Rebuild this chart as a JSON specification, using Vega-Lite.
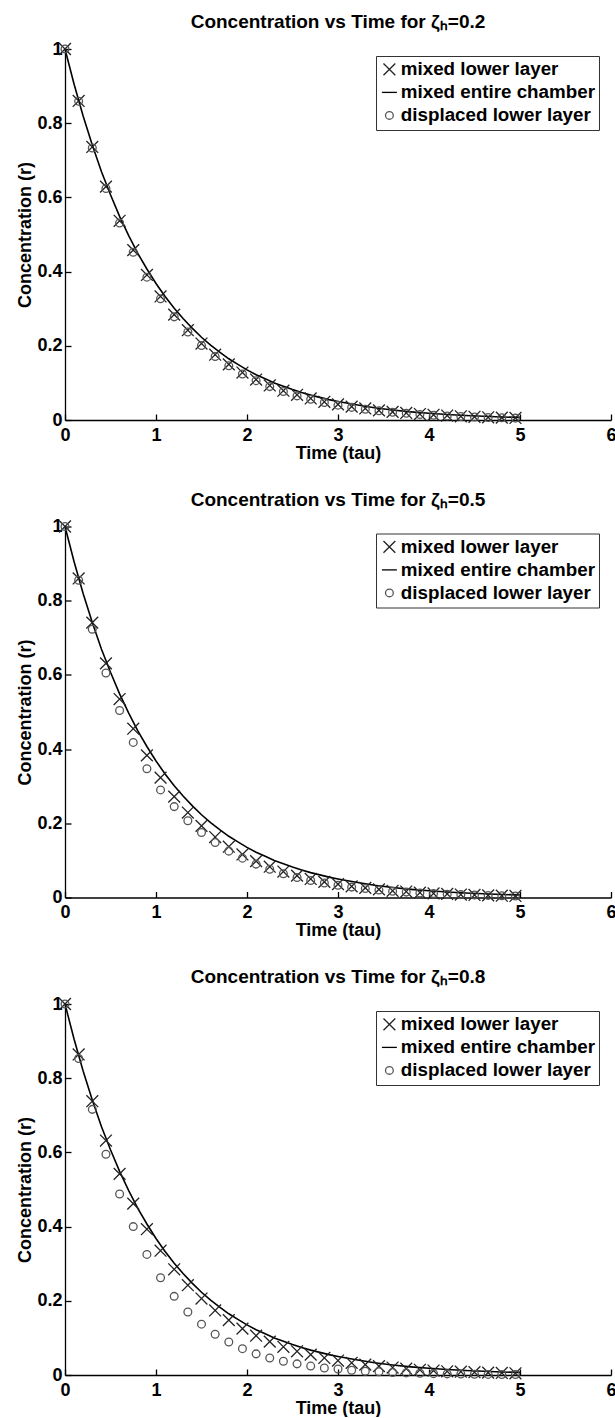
{
  "$schema": "https://vega.github.io/schema/vega-lite/v6.json",
  "padding": {"left": 16, "top": 13, "right": 0, "bottom": 0},
  "datasets": {
    "curve": [
      {"t": 0, "r": 1}, {"t": 0.1, "r": 0.905}, {"t": 0.2, "r": 0.819}, {"t": 0.3, "r": 0.741}, {"t": 0.4, "r": 0.670},
      {"t": 0.5, "r": 0.607}, {"t": 0.6, "r": 0.549}, {"t": 0.7, "r": 0.497}, {"t": 0.8, "r": 0.449}, {"t": 0.9, "r": 0.407},
      {"t": 1.0, "r": 0.368}, {"t": 1.1, "r": 0.333}, {"t": 1.2, "r": 0.301}, {"t": 1.3, "r": 0.273}, {"t": 1.4, "r": 0.247},
      {"t": 1.5, "r": 0.223}, {"t": 1.6, "r": 0.202}, {"t": 1.7, "r": 0.183}, {"t": 1.8, "r": 0.165}, {"t": 1.9, "r": 0.150},
      {"t": 2.0, "r": 0.135}, {"t": 2.1, "r": 0.122}, {"t": 2.2, "r": 0.111}, {"t": 2.3, "r": 0.100}, {"t": 2.4, "r": 0.091},
      {"t": 2.5, "r": 0.082}, {"t": 2.6, "r": 0.074}, {"t": 2.7, "r": 0.067}, {"t": 2.8, "r": 0.061}, {"t": 2.9, "r": 0.055},
      {"t": 3.0, "r": 0.050}, {"t": 3.2, "r": 0.041}, {"t": 3.4, "r": 0.033}, {"t": 3.6, "r": 0.027}, {"t": 3.8, "r": 0.022},
      {"t": 4.0, "r": 0.018}, {"t": 4.2, "r": 0.015}, {"t": 4.4, "r": 0.012}, {"t": 4.6, "r": 0.010}, {"t": 4.8, "r": 0.008},
      {"t": 5.0, "r": 0.007}
    ],
    "pts": [
      {"z": 0.2, "series": "mixed lower layer", "t": 0, "r": 1}, {"z": 0.2, "series": "mixed lower layer", "t": 0.15, "r": 0.860}, {"z": 0.2, "series": "mixed lower layer", "t": 0.3, "r": 0.736}, {"z": 0.2, "series": "mixed lower layer", "t": 0.45, "r": 0.629}, {"z": 0.2, "series": "mixed lower layer", "t": 0.6, "r": 0.537}, {"z": 0.2, "series": "mixed lower layer", "t": 0.75, "r": 0.458}, {"z": 0.2, "series": "mixed lower layer", "t": 0.9, "r": 0.391}, {"z": 0.2, "series": "mixed lower layer", "t": 1.05, "r": 0.333}, {"z": 0.2, "series": "mixed lower layer", "t": 1.2, "r": 0.284}, {"z": 0.2, "series": "mixed lower layer", "t": 1.35, "r": 0.242}, {"z": 0.2, "series": "mixed lower layer", "t": 1.5, "r": 0.206}, {"z": 0.2, "series": "mixed lower layer", "t": 1.65, "r": 0.176}, {"z": 0.2, "series": "mixed lower layer", "t": 1.8, "r": 0.150}, {"z": 0.2, "series": "mixed lower layer", "t": 1.95, "r": 0.128}, {"z": 0.2, "series": "mixed lower layer", "t": 2.1, "r": 0.109}, {"z": 0.2, "series": "mixed lower layer", "t": 2.25, "r": 0.093}, {"z": 0.2, "series": "mixed lower layer", "t": 2.4, "r": 0.079}, {"z": 0.2, "series": "mixed lower layer", "t": 2.55, "r": 0.068}, {"z": 0.2, "series": "mixed lower layer", "t": 2.7, "r": 0.058}, {"z": 0.2, "series": "mixed lower layer", "t": 2.85, "r": 0.049}, {"z": 0.2, "series": "mixed lower layer", "t": 3.0, "r": 0.042}, {"z": 0.2, "series": "mixed lower layer", "t": 3.15, "r": 0.036}, {"z": 0.2, "series": "mixed lower layer", "t": 3.3, "r": 0.031}, {"z": 0.2, "series": "mixed lower layer", "t": 3.45, "r": 0.026}, {"z": 0.2, "series": "mixed lower layer", "t": 3.6, "r": 0.022}, {"z": 0.2, "series": "mixed lower layer", "t": 3.75, "r": 0.019}, {"z": 0.2, "series": "mixed lower layer", "t": 3.9, "r": 0.016}, {"z": 0.2, "series": "mixed lower layer", "t": 4.05, "r": 0.014}, {"z": 0.2, "series": "mixed lower layer", "t": 4.2, "r": 0.012}, {"z": 0.2, "series": "mixed lower layer", "t": 4.35, "r": 0.010}, {"z": 0.2, "series": "mixed lower layer", "t": 4.5, "r": 0.0087}, {"z": 0.2, "series": "mixed lower layer", "t": 4.65, "r": 0.0074}, {"z": 0.2, "series": "mixed lower layer", "t": 4.8, "r": 0.0063}, {"z": 0.2, "series": "mixed lower layer", "t": 4.95, "r": 0.0054},
      {"z": 0.2, "series": "displaced lower layer", "t": 0, "r": 1}, {"z": 0.2, "series": "displaced lower layer", "t": 0.15, "r": 0.859}, {"z": 0.2, "series": "displaced lower layer", "t": 0.3, "r": 0.733}, {"z": 0.2, "series": "displaced lower layer", "t": 0.45, "r": 0.624}, {"z": 0.2, "series": "displaced lower layer", "t": 0.6, "r": 0.531}, {"z": 0.2, "series": "displaced lower layer", "t": 0.75, "r": 0.452}, {"z": 0.2, "series": "displaced lower layer", "t": 0.9, "r": 0.385}, {"z": 0.2, "series": "displaced lower layer", "t": 1.05, "r": 0.327}, {"z": 0.2, "series": "displaced lower layer", "t": 1.2, "r": 0.278}, {"z": 0.2, "series": "displaced lower layer", "t": 1.35, "r": 0.237}, {"z": 0.2, "series": "displaced lower layer", "t": 1.5, "r": 0.201}, {"z": 0.2, "series": "displaced lower layer", "t": 1.65, "r": 0.171}, {"z": 0.2, "series": "displaced lower layer", "t": 1.8, "r": 0.146}, {"z": 0.2, "series": "displaced lower layer", "t": 1.95, "r": 0.124}, {"z": 0.2, "series": "displaced lower layer", "t": 2.1, "r": 0.106}, {"z": 0.2, "series": "displaced lower layer", "t": 2.25, "r": 0.090}, {"z": 0.2, "series": "displaced lower layer", "t": 2.4, "r": 0.077}, {"z": 0.2, "series": "displaced lower layer", "t": 2.55, "r": 0.065}, {"z": 0.2, "series": "displaced lower layer", "t": 2.7, "r": 0.056}, {"z": 0.2, "series": "displaced lower layer", "t": 2.85, "r": 0.047}, {"z": 0.2, "series": "displaced lower layer", "t": 3.0, "r": 0.040}, {"z": 0.2, "series": "displaced lower layer", "t": 3.15, "r": 0.034}, {"z": 0.2, "series": "displaced lower layer", "t": 3.3, "r": 0.029}, {"z": 0.2, "series": "displaced lower layer", "t": 3.45, "r": 0.025}, {"z": 0.2, "series": "displaced lower layer", "t": 3.6, "r": 0.021}, {"z": 0.2, "series": "displaced lower layer", "t": 3.75, "r": 0.018}, {"z": 0.2, "series": "displaced lower layer", "t": 3.9, "r": 0.015}, {"z": 0.2, "series": "displaced lower layer", "t": 4.05, "r": 0.013}, {"z": 0.2, "series": "displaced lower layer", "t": 4.2, "r": 0.011}, {"z": 0.2, "series": "displaced lower layer", "t": 4.35, "r": 0.0095}, {"z": 0.2, "series": "displaced lower layer", "t": 4.5, "r": 0.0081}, {"z": 0.2, "series": "displaced lower layer", "t": 4.65, "r": 0.0069}, {"z": 0.2, "series": "displaced lower layer", "t": 4.8, "r": 0.0059}, {"z": 0.2, "series": "displaced lower layer", "t": 4.95, "r": 0.0050},
      {"z": 0.5, "series": "mixed lower layer", "t": 0, "r": 1}, {"z": 0.5, "series": "mixed lower layer", "t": 0.15, "r": 0.860}, {"z": 0.5, "series": "mixed lower layer", "t": 0.3, "r": 0.741}, {"z": 0.5, "series": "mixed lower layer", "t": 0.45, "r": 0.631}, {"z": 0.5, "series": "mixed lower layer", "t": 0.6, "r": 0.535}, {"z": 0.5, "series": "mixed lower layer", "t": 0.75, "r": 0.455}, {"z": 0.5, "series": "mixed lower layer", "t": 0.9, "r": 0.383}, {"z": 0.5, "series": "mixed lower layer", "t": 1.05, "r": 0.323}, {"z": 0.5, "series": "mixed lower layer", "t": 1.2, "r": 0.272}, {"z": 0.5, "series": "mixed lower layer", "t": 1.35, "r": 0.229}, {"z": 0.5, "series": "mixed lower layer", "t": 1.5, "r": 0.193}, {"z": 0.5, "series": "mixed lower layer", "t": 1.65, "r": 0.163}, {"z": 0.5, "series": "mixed lower layer", "t": 1.8, "r": 0.137}, {"z": 0.5, "series": "mixed lower layer", "t": 1.95, "r": 0.116}, {"z": 0.5, "series": "mixed lower layer", "t": 2.1, "r": 0.098}, {"z": 0.5, "series": "mixed lower layer", "t": 2.25, "r": 0.083}, {"z": 0.5, "series": "mixed lower layer", "t": 2.4, "r": 0.070}, {"z": 0.5, "series": "mixed lower layer", "t": 2.55, "r": 0.059}, {"z": 0.5, "series": "mixed lower layer", "t": 2.7, "r": 0.050}, {"z": 0.5, "series": "mixed lower layer", "t": 2.85, "r": 0.042}, {"z": 0.5, "series": "mixed lower layer", "t": 3.0, "r": 0.036}, {"z": 0.5, "series": "mixed lower layer", "t": 3.15, "r": 0.030}, {"z": 0.5, "series": "mixed lower layer", "t": 3.3, "r": 0.026}, {"z": 0.5, "series": "mixed lower layer", "t": 3.45, "r": 0.022}, {"z": 0.5, "series": "mixed lower layer", "t": 3.6, "r": 0.018}, {"z": 0.5, "series": "mixed lower layer", "t": 3.75, "r": 0.016}, {"z": 0.5, "series": "mixed lower layer", "t": 3.9, "r": 0.013}, {"z": 0.5, "series": "mixed lower layer", "t": 4.05, "r": 0.011}, {"z": 0.5, "series": "mixed lower layer", "t": 4.2, "r": 0.0095}, {"z": 0.5, "series": "mixed lower layer", "t": 4.35, "r": 0.0080}, {"z": 0.5, "series": "mixed lower layer", "t": 4.5, "r": 0.0068}, {"z": 0.5, "series": "mixed lower layer", "t": 4.65, "r": 0.0058}, {"z": 0.5, "series": "mixed lower layer", "t": 4.8, "r": 0.0049}, {"z": 0.5, "series": "mixed lower layer", "t": 4.95, "r": 0.0042},
      {"z": 0.5, "series": "displaced lower layer", "t": 0, "r": 1}, {"z": 0.5, "series": "displaced lower layer", "t": 0.15, "r": 0.855}, {"z": 0.5, "series": "displaced lower layer", "t": 0.3, "r": 0.723}, {"z": 0.5, "series": "displaced lower layer", "t": 0.45, "r": 0.605}, {"z": 0.5, "series": "displaced lower layer", "t": 0.6, "r": 0.504}, {"z": 0.5, "series": "displaced lower layer", "t": 0.75, "r": 0.418}, {"z": 0.5, "series": "displaced lower layer", "t": 0.9, "r": 0.347}, {"z": 0.5, "series": "displaced lower layer", "t": 1.05, "r": 0.290}, {"z": 0.5, "series": "displaced lower layer", "t": 1.2, "r": 0.245}, {"z": 0.5, "series": "displaced lower layer", "t": 1.35, "r": 0.207}, {"z": 0.5, "series": "displaced lower layer", "t": 1.5, "r": 0.175}, {"z": 0.5, "series": "displaced lower layer", "t": 1.65, "r": 0.148}, {"z": 0.5, "series": "displaced lower layer", "t": 1.8, "r": 0.125}, {"z": 0.5, "series": "displaced lower layer", "t": 1.95, "r": 0.106}, {"z": 0.5, "series": "displaced lower layer", "t": 2.1, "r": 0.090}, {"z": 0.5, "series": "displaced lower layer", "t": 2.25, "r": 0.076}, {"z": 0.5, "series": "displaced lower layer", "t": 2.4, "r": 0.064}, {"z": 0.5, "series": "displaced lower layer", "t": 2.55, "r": 0.054}, {"z": 0.5, "series": "displaced lower layer", "t": 2.7, "r": 0.046}, {"z": 0.5, "series": "displaced lower layer", "t": 2.85, "r": 0.039}, {"z": 0.5, "series": "displaced lower layer", "t": 3.0, "r": 0.033}, {"z": 0.5, "series": "displaced lower layer", "t": 3.15, "r": 0.028}, {"z": 0.5, "series": "displaced lower layer", "t": 3.3, "r": 0.024}, {"z": 0.5, "series": "displaced lower layer", "t": 3.45, "r": 0.020}, {"z": 0.5, "series": "displaced lower layer", "t": 3.6, "r": 0.017}, {"z": 0.5, "series": "displaced lower layer", "t": 3.75, "r": 0.0145}, {"z": 0.5, "series": "displaced lower layer", "t": 3.9, "r": 0.0123}, {"z": 0.5, "series": "displaced lower layer", "t": 4.05, "r": 0.0105}, {"z": 0.5, "series": "displaced lower layer", "t": 4.2, "r": 0.0090}, {"z": 0.5, "series": "displaced lower layer", "t": 4.35, "r": 0.0077}, {"z": 0.5, "series": "displaced lower layer", "t": 4.5, "r": 0.0066}, {"z": 0.5, "series": "displaced lower layer", "t": 4.65, "r": 0.0056}, {"z": 0.5, "series": "displaced lower layer", "t": 4.8, "r": 0.0048}, {"z": 0.5, "series": "displaced lower layer", "t": 4.95, "r": 0.0041},
      {"z": 0.8, "series": "mixed lower layer", "t": 0, "r": 1}, {"z": 0.8, "series": "mixed lower layer", "t": 0.15, "r": 0.864}, {"z": 0.8, "series": "mixed lower layer", "t": 0.3, "r": 0.738}, {"z": 0.8, "series": "mixed lower layer", "t": 0.45, "r": 0.632}, {"z": 0.8, "series": "mixed lower layer", "t": 0.6, "r": 0.542}, {"z": 0.8, "series": "mixed lower layer", "t": 0.75, "r": 0.462}, {"z": 0.8, "series": "mixed lower layer", "t": 0.9, "r": 0.393}, {"z": 0.8, "series": "mixed lower layer", "t": 1.05, "r": 0.335}, {"z": 0.8, "series": "mixed lower layer", "t": 1.2, "r": 0.285}, {"z": 0.8, "series": "mixed lower layer", "t": 1.35, "r": 0.242}, {"z": 0.8, "series": "mixed lower layer", "t": 1.5, "r": 0.206}, {"z": 0.8, "series": "mixed lower layer", "t": 1.65, "r": 0.174}, {"z": 0.8, "series": "mixed lower layer", "t": 1.8, "r": 0.148}, {"z": 0.8, "series": "mixed lower layer", "t": 1.95, "r": 0.125}, {"z": 0.8, "series": "mixed lower layer", "t": 2.1, "r": 0.106}, {"z": 0.8, "series": "mixed lower layer", "t": 2.25, "r": 0.090}, {"z": 0.8, "series": "mixed lower layer", "t": 2.4, "r": 0.076}, {"z": 0.8, "series": "mixed lower layer", "t": 2.55, "r": 0.064}, {"z": 0.8, "series": "mixed lower layer", "t": 2.7, "r": 0.055}, {"z": 0.8, "series": "mixed lower layer", "t": 2.85, "r": 0.046}, {"z": 0.8, "series": "mixed lower layer", "t": 3.0, "r": 0.039}, {"z": 0.8, "series": "mixed lower layer", "t": 3.15, "r": 0.033}, {"z": 0.8, "series": "mixed lower layer", "t": 3.3, "r": 0.028}, {"z": 0.8, "series": "mixed lower layer", "t": 3.45, "r": 0.024}, {"z": 0.8, "series": "mixed lower layer", "t": 3.6, "r": 0.020}, {"z": 0.8, "series": "mixed lower layer", "t": 3.75, "r": 0.017}, {"z": 0.8, "series": "mixed lower layer", "t": 3.9, "r": 0.014}, {"z": 0.8, "series": "mixed lower layer", "t": 4.05, "r": 0.012}, {"z": 0.8, "series": "mixed lower layer", "t": 4.2, "r": 0.010}, {"z": 0.8, "series": "mixed lower layer", "t": 4.35, "r": 0.0088}, {"z": 0.8, "series": "mixed lower layer", "t": 4.5, "r": 0.0075}, {"z": 0.8, "series": "mixed lower layer", "t": 4.65, "r": 0.0063}, {"z": 0.8, "series": "mixed lower layer", "t": 4.8, "r": 0.0054}, {"z": 0.8, "series": "mixed lower layer", "t": 4.95, "r": 0.0046},
      {"z": 0.8, "series": "displaced lower layer", "t": 0, "r": 1}, {"z": 0.8, "series": "displaced lower layer", "t": 0.15, "r": 0.853}, {"z": 0.8, "series": "displaced lower layer", "t": 0.3, "r": 0.716}, {"z": 0.8, "series": "displaced lower layer", "t": 0.45, "r": 0.595}, {"z": 0.8, "series": "displaced lower layer", "t": 0.6, "r": 0.488}, {"z": 0.8, "series": "displaced lower layer", "t": 0.75, "r": 0.400}, {"z": 0.8, "series": "displaced lower layer", "t": 0.9, "r": 0.325}, {"z": 0.8, "series": "displaced lower layer", "t": 1.05, "r": 0.262}, {"z": 0.8, "series": "displaced lower layer", "t": 1.2, "r": 0.212}, {"z": 0.8, "series": "displaced lower layer", "t": 1.35, "r": 0.170}, {"z": 0.8, "series": "displaced lower layer", "t": 1.5, "r": 0.137}, {"z": 0.8, "series": "displaced lower layer", "t": 1.65, "r": 0.110}, {"z": 0.8, "series": "displaced lower layer", "t": 1.8, "r": 0.089}, {"z": 0.8, "series": "displaced lower layer", "t": 1.95, "r": 0.071}, {"z": 0.8, "series": "displaced lower layer", "t": 2.1, "r": 0.057}, {"z": 0.8, "series": "displaced lower layer", "t": 2.25, "r": 0.046}, {"z": 0.8, "series": "displaced lower layer", "t": 2.4, "r": 0.037}, {"z": 0.8, "series": "displaced lower layer", "t": 2.55, "r": 0.030}, {"z": 0.8, "series": "displaced lower layer", "t": 2.7, "r": 0.024}, {"z": 0.8, "series": "displaced lower layer", "t": 2.85, "r": 0.019}, {"z": 0.8, "series": "displaced lower layer", "t": 3.0, "r": 0.016}, {"z": 0.8, "series": "displaced lower layer", "t": 3.15, "r": 0.013}, {"z": 0.8, "series": "displaced lower layer", "t": 3.3, "r": 0.010}, {"z": 0.8, "series": "displaced lower layer", "t": 3.45, "r": 0.0085}, {"z": 0.8, "series": "displaced lower layer", "t": 3.6, "r": 0.0069}, {"z": 0.8, "series": "displaced lower layer", "t": 3.75, "r": 0.0056}, {"z": 0.8, "series": "displaced lower layer", "t": 3.9, "r": 0.0046}, {"z": 0.8, "series": "displaced lower layer", "t": 4.05, "r": 0.0037}, {"z": 0.8, "series": "displaced lower layer", "t": 4.2, "r": 0.0030}, {"z": 0.8, "series": "displaced lower layer", "t": 4.35, "r": 0.0025}, {"z": 0.8, "series": "displaced lower layer", "t": 4.5, "r": 0.0020}, {"z": 0.8, "series": "displaced lower layer", "t": 4.65, "r": 0.0016}, {"z": 0.8, "series": "displaced lower layer", "t": 4.8, "r": 0.0013}, {"z": 0.8, "series": "displaced lower layer", "t": 4.95, "r": 0.0011}
    ]
  },
  "spacing": 28.5,
  "resolve": {"scale": {"color": "independent", "shape": "independent", "size": "independent"}, "legend": {"color": "independent", "shape": "independent", "size": "independent"}},
  "vconcat": [
    {
      "title": {"text": "Concentration vs Time for ζₕ=0.2"},
      "width": 546, "height": 371,
      "layer": [
        {
          "data": {"name": "curve"},
          "mark": {"type": "line", "color": "#000000", "strokeWidth": 1.6},
          "encoding": {
            "x": {"field": "t", "type": "quantitative", "scale": {"domain": [0, 6], "nice": false}, "axis": {"values": [0, 1, 2, 3, 4, 5, 6], "format": "~g", "title": "Time (tau)"}},
            "y": {"field": "r", "type": "quantitative", "scale": {"domain": [0, 1], "nice": false}, "axis": {"values": [0, 0.2, 0.4, 0.6, 0.8, 1], "format": "~g", "title": "Concentration (r)"}}
          }
        },
        {
          "data": {"name": "pts"},
          "transform": [{"filter": "datum.z == 0.2"}],
          "mark": {"type": "point", "filled": false, "strokeWidth": 1.3, "opacity": 1},
          "encoding": {
            "x": {"field": "t", "type": "quantitative"},
            "y": {"field": "r", "type": "quantitative"},
            "color": {"field": "series", "type": "nominal", "scale": {"domain": ["mixed lower layer", "mixed entire chamber", "displaced lower layer"], "range": ["#222222", "#000000", "#555555"]}},
            "shape": {"field": "series", "type": "nominal", "scale": {"domain": ["mixed lower layer", "mixed entire chamber", "displaced lower layer"], "range": ["M-1,-1L1,1M-1,1L1,-1", "stroke", "circle"]}},
            "size": {"field": "series", "type": "nominal", "scale": {"type": "ordinal", "domain": ["mixed lower layer", "mixed entire chamber", "displaced lower layer"], "range": [140, 225, 60]}}
          }
        }
      ]
    },
    {
      "title": {"text": "Concentration vs Time for ζₕ=0.5"},
      "width": 546, "height": 371,
      "layer": [
        {
          "data": {"name": "curve"},
          "mark": {"type": "line", "color": "#000000", "strokeWidth": 1.6},
          "encoding": {
            "x": {"field": "t", "type": "quantitative", "scale": {"domain": [0, 6], "nice": false}, "axis": {"values": [0, 1, 2, 3, 4, 5, 6], "format": "~g", "title": "Time (tau)"}},
            "y": {"field": "r", "type": "quantitative", "scale": {"domain": [0, 1], "nice": false}, "axis": {"values": [0, 0.2, 0.4, 0.6, 0.8, 1], "format": "~g", "title": "Concentration (r)"}}
          }
        },
        {
          "data": {"name": "pts"},
          "transform": [{"filter": "datum.z == 0.5"}],
          "mark": {"type": "point", "filled": false, "strokeWidth": 1.3, "opacity": 1},
          "encoding": {
            "x": {"field": "t", "type": "quantitative"},
            "y": {"field": "r", "type": "quantitative"},
            "color": {"field": "series", "type": "nominal", "scale": {"domain": ["mixed lower layer", "mixed entire chamber", "displaced lower layer"], "range": ["#222222", "#000000", "#555555"]}},
            "shape": {"field": "series", "type": "nominal", "scale": {"domain": ["mixed lower layer", "mixed entire chamber", "displaced lower layer"], "range": ["M-1,-1L1,1M-1,1L1,-1", "stroke", "circle"]}},
            "size": {"field": "series", "type": "nominal", "scale": {"type": "ordinal", "domain": ["mixed lower layer", "mixed entire chamber", "displaced lower layer"], "range": [140, 225, 60]}}
          }
        }
      ]
    },
    {
      "title": {"text": "Concentration vs Time for ζₕ=0.8"},
      "width": 546, "height": 371,
      "layer": [
        {
          "data": {"name": "curve"},
          "mark": {"type": "line", "color": "#000000", "strokeWidth": 1.6},
          "encoding": {
            "x": {"field": "t", "type": "quantitative", "scale": {"domain": [0, 6], "nice": false}, "axis": {"values": [0, 1, 2, 3, 4, 5, 6], "format": "~g", "title": "Time (tau)"}},
            "y": {"field": "r", "type": "quantitative", "scale": {"domain": [0, 1], "nice": false}, "axis": {"values": [0, 0.2, 0.4, 0.6, 0.8, 1], "format": "~g", "title": "Concentration (r)"}}
          }
        },
        {
          "data": {"name": "pts"},
          "transform": [{"filter": "datum.z == 0.8"}],
          "mark": {"type": "point", "filled": false, "strokeWidth": 1.3, "opacity": 1},
          "encoding": {
            "x": {"field": "t", "type": "quantitative"},
            "y": {"field": "r", "type": "quantitative"},
            "color": {"field": "series", "type": "nominal", "scale": {"domain": ["mixed lower layer", "mixed entire chamber", "displaced lower layer"], "range": ["#222222", "#000000", "#555555"]}},
            "shape": {"field": "series", "type": "nominal", "scale": {"domain": ["mixed lower layer", "mixed entire chamber", "displaced lower layer"], "range": ["M-1,-1L1,1M-1,1L1,-1", "stroke", "circle"]}},
            "size": {"field": "series", "type": "nominal", "scale": {"type": "ordinal", "domain": ["mixed lower layer", "mixed entire chamber", "displaced lower layer"], "range": [140, 225, 60]}}
          }
        }
      ]
    }
  ],
  "config": {
    "view": {"stroke": null},
    "font": "Liberation Sans",
    "background": "#ffffff",
    "title": {"font": "Liberation Sans", "fontSize": 19, "fontWeight": "bold", "color": "#000000", "anchor": "middle", "frame": "group", "baseline": "alphabetic", "offset": 8},
    "axis": {"grid": false, "domainColor": "#000000", "domainWidth": 1.3, "tickColor": "#000000", "tickWidth": 1.3, "tickSize": -6, "labelFont": "Liberation Sans", "labelFontSize": 18, "labelFontWeight": "bold", "labelColor": "#000000", "labelFlush": false, "labelOverlap": false, "titleFont": "Liberation Sans", "titleFontSize": 18, "titleFontWeight": "bold", "titleColor": "#000000"},
    "axisX": {"labelPadding": 12, "titlePadding": 0},
    "axisY": {"labelPadding": 9, "titlePadding": 2},
    "legend": {"orient": "none", "legendX": 311, "legendY": 7, "title": null, "strokeColor": "#333333", "fillColor": "#ffffff", "padding": 4, "columnPadding": 0, "labelFont": "Liberation Sans", "labelFontSize": 18.8, "labelFontWeight": "bold", "labelColor": "#000000", "labelOffset": 2, "labelLimit": 400, "symbolStrokeWidth": 1.3, "rowPadding": 3}
  }
}
